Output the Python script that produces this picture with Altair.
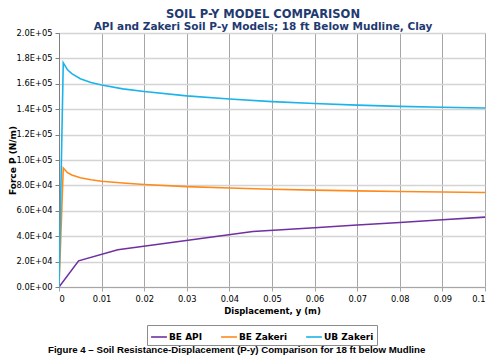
import altair as alt
import pandas as pd

# ---- data ----
api_y = [0.0, 0.0046, 0.0138, 0.0455, 0.06, 0.07, 0.08, 0.09, 0.1]
api_p = [0, 20600, 29300, 43700, 46700, 48800, 50800, 52900, 55000]

zak_y = [0.0, 0.001, 0.002, 0.003, 0.005, 0.0075, 0.01, 0.015, 0.02, 0.03, 0.04,
         0.05, 0.06, 0.07, 0.08, 0.09, 0.1]
be_zak_p = [0, 93700, 90000, 88200, 86000, 84500, 83300, 81900, 80700, 79000,
            77900, 77000, 76300, 75700, 75200, 74800, 74400]
ub_zak_p = [0, 176500, 171000, 168000, 164000, 161000, 159000, 156000, 154000,
            150500, 148000, 146000, 144500, 143200, 142200, 141500, 140900]

series_names = ["BE API", "BE Zakeri", "UB Zakeri"]
series_colors = ["#7030A0", "#FF8A1C", "#1BB3EA"]

rows = []
for y, p in zip(api_y, api_p):
    rows.append({"s": "BE API", "y": y, "p": p, "o": len(rows)})
for y, p in zip(zak_y, be_zak_p):
    rows.append({"s": "BE Zakeri", "y": y, "p": p, "o": len(rows)})
for y, p in zip(zak_y, ub_zak_p):
    rows.append({"s": "UB Zakeri", "y": y, "p": p, "o": len(rows)})
df = pd.DataFrame(rows)

caption = "Figure 4 \u2013 Soil Resistance-Displacement (P-y) Comparison for 18 ft below Mudline"

lines = alt.Chart(df).mark_line(strokeWidth=1.6, clip=True).encode(
    x=alt.X("y:Q", title="Displacement, y (m)",
            scale=alt.Scale(domain=[0, 0.1], nice=False),
            axis=alt.Axis(values=[i / 100 for i in range(11)],
                          labelExpr="format(datum.value, '.2~f')",
                          gridColor="#a6a6a6", gridWidth=1,
                          domainColor="#a6a6a6", tickColor="#a6a6a6",
                          tickSize=4, labelPadding=3, titlePadding=4)),
    y=alt.Y("p:Q", title="Force P (N/m)",
            scale=alt.Scale(domain=[0, 200000], nice=False),
            axis=alt.Axis(values=[i * 20000 for i in range(11)],
                          labelExpr="replace(format(datum.value, '.1e'), 'e+', 'E+0')",
                          gridColor="#d4d4d4", gridWidth=1.5,
                          domainColor="#7f7f7f", tickColor="#7f7f7f",
                          tickSize=4, labelPadding=3, titleX=-42,
                          titleFontSize=9)),
    color=alt.Color("s:N", title=None,
                    scale=alt.Scale(domain=series_names, range=series_colors),
                    legend=alt.Legend(orient="none", legendX=88, legendY=292,
                                      direction="horizontal", symbolType="stroke",
                                      symbolSize=250, symbolStrokeWidth=1.6,
                                      labelFont="DejaVu Sans", labelFontWeight="bold",
                                      labelFontSize=9, labelColor="#000000",
                                      strokeColor="#8c8c8c", padding=3,
                                      columnPadding=14, labelOffset=1)),
    order="o:Q",
)

cap = alt.Chart(pd.DataFrame({"t": [caption]})).mark_text(
    align="left", baseline="middle", font="Liberation Sans", fontWeight="bold",
    fontSize=9.7, color="#000000"
).encode(x=alt.value(-11), y=alt.value(317), text="t:N")

chart = alt.layer(lines, cap).properties(
    width=426, height=254,
    autosize=alt.AutoSizeParams(type="none"),
    padding={"left": 51, "top": 25, "right": 7, "bottom": 69},
    title=alt.Title("SOIL P-Y MODEL COMPARISON",
                    subtitle="API and Zakeri Soil P-y Models; 18 ft Below Mudline, Clay",
                    font="DejaVu Sans", fontSize=11.5, fontWeight="bold", color="#1F3A70",
                    subtitleFont="DejaVu Sans", subtitleFontSize=10.5,
                    subtitleFontWeight="bold", subtitleColor="#1F3A70",
                    anchor="middle", dx=-9, dy=6, offset=2, subtitlePadding=1),
).configure_view(stroke="#a6a6a6", strokeWidth=1).configure_axis(
    labelFont="DejaVu Sans", labelFontSize=8.3, labelColor="#000000",
    titleFont="DejaVu Sans", titleFontSize=8.5, titleFontWeight="bold",
    titleColor="#000000",
)

chart.save("out.html", embed_options={"renderer": "svg", "actions": False})
